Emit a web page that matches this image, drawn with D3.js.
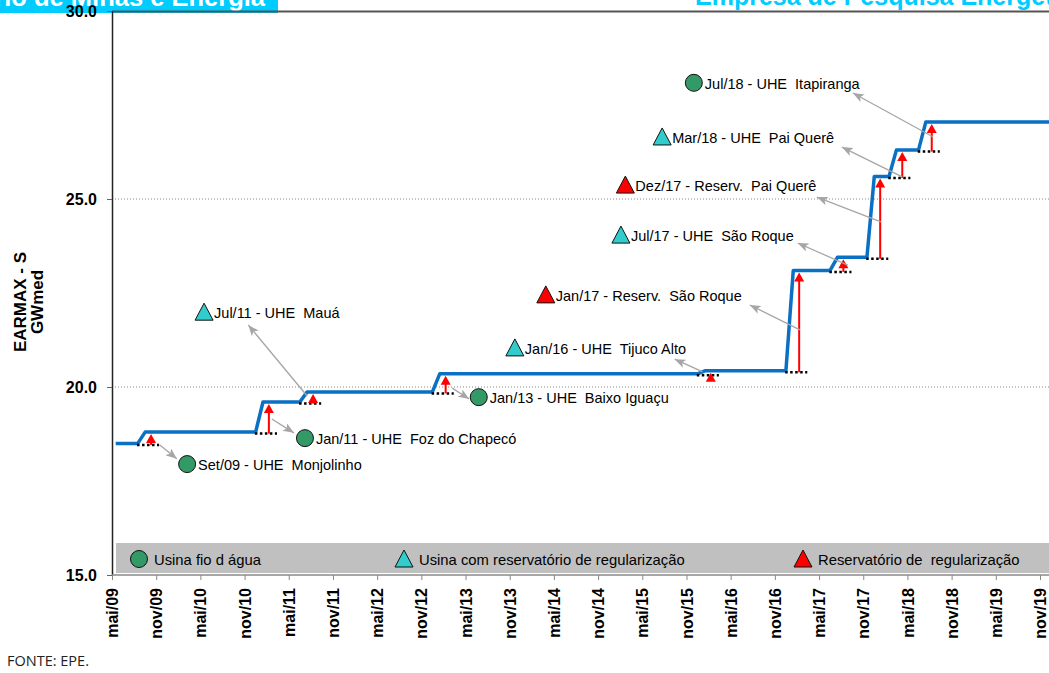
<!DOCTYPE html>
<html>
<head>
<meta charset="utf-8">
<script src="https://cdn.jsdelivr.net/npm/d3@7/dist/d3.min.js"></script>
<style>
  body { margin: 0; background: #fff; }
  svg { display: block; font-family: "Liberation Sans", Arial, sans-serif; }
</style>
</head>
<body>
<div id="wrapper"></div>
<script>
// ---- data ----
const tickLabels = ["mai/09","nov/09","mai/10","nov/10","mai/11","nov/11","mai/12","nov/12","mai/13","nov/13","mai/14",
  "nov/14","mai/15","nov/15","mai/16","nov/16","mai/17","nov/17","mai/18","nov/18","mai/19","nov/19"];
const yTicks = [15, 20, 25, 30];
const startLevel = 18.5;
const eventDates = ["Set/09","Jan/11","Jul/11","Jan/13","Jan/16","Jan/17","Jul/17","Dez/17","Mar/18","Jul/18"];
const eventLevels = [18.8, 19.6, 19.87, 20.35, 20.43, 23.1, 23.45, 25.6, 26.3, 27.05];
const eventNames = ["UHE  Monjolinho","UHE  Foz do Chapecó","UHE  Mauá","UHE  Baixo Iguaçu","UHE  Tijuco Alto",
  "Reserv.  São Roque","UHE  São Roque","Reserv.  Pai Querê","UHE  Pai Querê","UHE  Itapiranga"];
const eventTypes = ["fio","fio","usina","fio","usina","reserv","usina","reserv","usina","fio"];
const legendTypes = ["fio","usina","reserv"];
const legendLabels = ["Usina fio d água","Usina com reservatório de regularização","Reservatório de  regularização"];

// callout placement in chart units [month index, GWmed]
const calloutAt = [[10.2,17.95],[26.2,18.64],[12.5,21.99],[49.8,19.73],[54.7,21.04],[58.9,22.45],[69.1,24.04],[69.7,25.37],[74.7,26.65],[79.0,28.09]];
const leaderFrom = [[6.5,18.46],[21.7,19.15],[26.5,19.76],[46.2,19.97],[80.2,20.4],[93.4,21.52],[99.9,23.24],[104.4,24.39],[107.3,25.59],[111.5,26.65]];
const leaderTo = [[8.8,18.09],[24.7,18.78],[18.5,21.65],[48.5,19.68],[76.4,20.74],[86.6,22.18],[93.1,23.83],[95.7,25.05],[99.1,26.38],[100.6,27.82]];

const meses = ["jan","fev","mar","abr","mai","jun","jul","ago","set","out","nov","dez"];
const monthIndex = s => { const [m, y] = s.toLowerCase().split("/"); return (+y - 9) * 12 + meses.indexOf(m) - 4; };

const colors = { fio: "#339966", usina: "#33CCCC", reserv: "#FF0000" };

let dimensions = { width: 1049, height: 673, left: 112, top: 11, bottom: 575 };

const svg = d3.select("#wrapper").append("svg")
  .attr("width", dimensions.width).attr("height", dimensions.height);

const xScale = d3.scaleLinear().domain([0, 126]).range([112, 1040]);
const yScale = d3.scaleLinear().domain([15, 30]).range([dimensions.bottom, dimensions.top]);

// header strip (cut off at top)
svg.append("rect").attr("x", 0).attr("y", 0).attr("width", 278).attr("height", 13).attr("fill", "#00CCFF");
svg.append("text").attr("x", 265).attr("y", 6).attr("text-anchor", "end")
  .attr("font-size", 25.5).attr("font-weight", "bold").attr("fill", "#fff").text("Ministério de Minas e Energia");
svg.append("text").attr("x", 695).attr("y", 5)
  .attr("font-size", 25).attr("font-weight", "bold").attr("fill", "#00CCFF").text("Empresa de Pesquisa Energética");

// grid
svg.append("g").selectAll("line").data([20, 25]).join("line")
  .attr("x1", dimensions.left).attr("x2", dimensions.width)
  .attr("y1", d => yScale(d)).attr("y2", d => yScale(d))
  .attr("stroke", "#888").attr("stroke-width", 1).attr("stroke-dasharray", "1,2");

// legend band
svg.append("rect").attr("x", 116).attr("y", 543).attr("width", dimensions.width - 116).attr("height", 30).attr("fill", "#C0C0C0");

// top border
svg.append("line").attr("x1", dimensions.left).attr("x2", dimensions.width)
  .attr("y1", dimensions.top + 0.5).attr("y2", dimensions.top + 0.5).attr("stroke", "#555").attr("stroke-width", 2);

// axes
const yAxis = svg.append("g").attr("transform", `translate(${dimensions.left},0)`)
  .call(d3.axisLeft(yScale).tickValues(yTicks).tickFormat(d3.format(".1f")).tickSize(5).tickSizeOuter(0));
yAxis.select(".domain").attr("stroke", "#222").attr("stroke-width", 1.5);
yAxis.selectAll(".tick line").attr("stroke", "#666");
yAxis.selectAll("text").attr("x", -15).attr("font-size", 16).attr("font-weight", "bold")
  .attr("font-family", "Liberation Sans, Arial, sans-serif").attr("fill", "#000");

const xAxis = svg.append("g").attr("transform", `translate(0,${dimensions.bottom})`)
  .call(d3.axisBottom(xScale).tickValues(d3.range(0, 127, 6)).tickFormat((d, i) => tickLabels[i]).tickSize(5).tickSizeOuter(0));
xAxis.select(".domain").remove();
xAxis.selectAll(".tick line").attr("stroke", "#888");
xAxis.selectAll("text").attr("transform", "rotate(-90)").attr("text-anchor", "end")
  .attr("x", -13).attr("y", 0).attr("dy", "0.35em")
  .attr("font-size", 16).attr("font-weight", "bold").attr("font-family", "Liberation Sans, Arial, sans-serif").attr("fill", "#000");
svg.append("line").attr("x1", dimensions.left).attr("x2", dimensions.width)
  .attr("y1", dimensions.bottom).attr("y2", dimensions.bottom).attr("stroke", "#888").attr("stroke-width", 1.5);

// y title
[["EARMAX - S", 26], ["GWmed", 43]].forEach(([t, x]) => {
  svg.append("text").attr("transform", `translate(${x},302) rotate(-90)`).attr("text-anchor", "middle")
    .attr("font-size", 17).attr("font-weight", "bold").text(t);
});

// step series
const events = eventDates.map((d, i) => ({ k: monthIndex(d), prev: i ? eventLevels[i - 1] : startLevel, level: eventLevels[i], i }));
const pts = [[0.5, startLevel]];
events.forEach(e => { pts.push([e.k - 0.5, e.prev], [e.k + 0.5, e.level]); });
pts.push([130, eventLevels[eventLevels.length - 1]]);

svg.append("path").datum(pts)
  .attr("d", d3.line().x(d => xScale(d[0])).y(d => yScale(d[1])))
  .attr("fill", "none").attr("stroke", "#0A70C4").attr("stroke-width", 3.5).attr("stroke-linejoin", "round");

// dotted previous level
svg.append("g").selectAll("line").data(events).join("line")
  .attr("x1", e => xScale(e.k - 0.6)).attr("x2", e => xScale(e.k + 2.4))
  .attr("y1", e => yScale(e.prev) + 1.5).attr("y2", e => yScale(e.prev) + 1.5)
  .attr("stroke", "#000").attr("stroke-width", 2.5).attr("stroke-dasharray", "2.5,2.5");

// red arrows
const red = svg.append("g").selectAll("g").data(events).join("g");
red.append("line")
  .attr("x1", e => xScale(e.k + 1.3)).attr("x2", e => xScale(e.k + 1.3))
  .attr("y1", e => yScale(e.prev) + 1.5).attr("y2", e => yScale(e.level) + 6)
  .attr("stroke", "#FF0000").attr("stroke-width", 2);
red.append("path")
  .attr("d", e => { const x = xScale(e.k + 1.3), y = yScale(e.level) + 2; return `M${x},${y}L${x + 5},${y + 9}L${x - 5},${y + 9}Z`; })
  .attr("fill", "#FF0000");

// leaders
svg.append("defs").append("marker").attr("id", "head")
  .attr("viewBox", "0 0 10 8").attr("refX", 10).attr("refY", 4)
  .attr("markerWidth", 11).attr("markerHeight", 9).attr("markerUnits", "userSpaceOnUse").attr("orient", "auto")
  .append("path").attr("d", "M0,0L10,4L0,8L2.5,4Z").attr("fill", "#A6A6A6");
svg.append("g").selectAll("line").data(events).join("line")
  .attr("x1", e => xScale(leaderFrom[e.i][0])).attr("y1", e => yScale(leaderFrom[e.i][1]))
  .attr("x2", e => xScale(leaderTo[e.i][0])).attr("y2", e => yScale(leaderTo[e.i][1]))
  .attr("stroke", "#A6A6A6").attr("stroke-width", 1.3).attr("marker-end", "url(#head)");

// marker shapes
function drawMarker(sel, type) {
  if (type === "fio") {
    sel.append("circle").attr("r", 8.5).attr("fill", colors.fio).attr("stroke", "#111").attr("stroke-width", 1);
  } else {
    sel.append("path").attr("d", "M0,-9L9,8L-9,8Z").attr("fill", colors[type]).attr("stroke", "#111").attr("stroke-width", 1);
  }
}

const callouts = svg.append("g").selectAll("g").data(events).join("g")
  .attr("transform", e => `translate(${xScale(calloutAt[e.i][0])},${yScale(calloutAt[e.i][1])})`);
callouts.each(function (e) { drawMarker(d3.select(this), eventTypes[e.i]); });
callouts.append("text")
  .attr("x", e => eventTypes[e.i] === "fio" ? 11 : 10).attr("y", 6)
  .attr("font-size", 14.5).attr("fill", "#000").style("white-space", "pre")
  .text(e => `${eventDates[e.i]} - ${eventNames[e.i]}`);

// legend
const legendX = [139, 404, 803];
const lg = svg.append("g").selectAll("g").data(legendTypes).join("g")
  .attr("transform", (d, i) => `translate(${legendX[i]},559)`);
lg.each(function (d) { drawMarker(d3.select(this), d); });
lg.append("text").attr("x", 15).attr("y", 6).attr("font-size", 14.8).style("white-space", "pre")
  .text((d, i) => legendLabels[i]);

// source
svg.append("text").attr("x", 7).attr("y", 666).attr("font-family", "Open Sans, sans-serif")
  .attr("font-size", 14.5).attr("fill", "#222").style("white-space", "pre").text("FONTE: EPE.");
</script>
</body>
</html>
